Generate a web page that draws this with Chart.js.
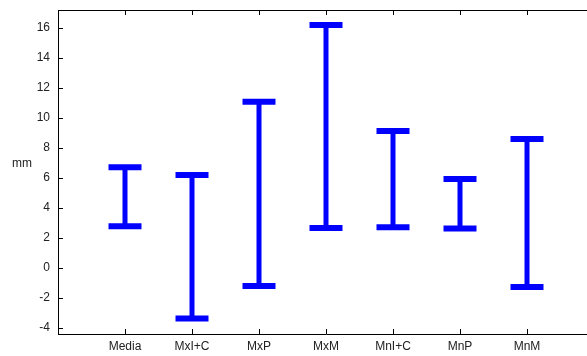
<!DOCTYPE html>
<html>
<head>
<meta charset="utf-8">
<script src="https://cdn.jsdelivr.net/npm/chart.js@4"></script>
<style>
  html, body { margin: 0; padding: 0; background: #fff; overflow: hidden; }
  #wrap { position: relative; width: 600px; height: 356px; }
</style>
</head>
<body>
<div id="wrap"><canvas id="chart"></canvas></div>
<script>
// range bars per group (mm)
const categories = ['Media', 'MxI+C', 'MxP', 'MxM', 'MnI+C', 'MnP', 'MnM'];
const lowValues  = [2.78, -3.36, -1.2, 2.67, 2.71, 2.64, -1.27];
const highValues = [6.71, 6.2, 11.09, 16.2, 9.13, 5.93, 8.6];
const yTicks = [-4, -2, 0, 2, 4, 6, 8, 10, 12, 14, 16];

const blue = '#0000ff';

// one dataset per group: a vertical line with flat caps at both ends
const datasets = categories.map((c, i) => ({
    label: c,
    data: [{x: i, y: lowValues[i]}, {x: i, y: highValues[i]}],
    showLine: true,
    borderColor: blue,
    borderWidth: 5,
    pointStyle: 'line',
    pointRadius: 16.5,
    pointHoverRadius: 16.5,
    pointBorderColor: blue,
    pointBorderWidth: 6,
    pointBackgroundColor: blue
}));

// the box is fixed, no extra room for edge labels
function noPad(s) {
    s.paddingTop = 0;
    s.paddingBottom = 0;
    s.paddingLeft = 0;
    s.paddingRight = 0;
}

// inward tick marks, top border and the "mm" label
const frame = {
    id: 'frame',
    afterDraw(chart) {
        const ctx = chart.ctx;
        const area = chart.chartArea;
        const xs = chart.scales.x, ys = chart.scales.y;
        ctx.save();
        ctx.strokeStyle = '#000';
        ctx.lineWidth = 1;
        ctx.beginPath();
        ctx.moveTo(area.left, Math.round(area.top) + 0.5);
        ctx.lineTo(area.right, Math.round(area.top) + 0.5);
        ys.ticks.forEach(t => {
            const py = Math.round(ys.getPixelForValue(t.value)) + 0.5;
            ctx.moveTo(area.left, py);
            ctx.lineTo(area.left + 5, py);
        });
        xs.ticks.forEach(t => {
            const px = Math.round(xs.getPixelForValue(t.value)) + 0.5;
            ctx.moveTo(px, area.bottom);
            ctx.lineTo(px, area.bottom - 5);
            ctx.moveTo(px, area.top);
            ctx.lineTo(px, area.top + 5);
        });
        ctx.stroke();
        ctx.fillStyle = '#222';
        ctx.font = '12px "Liberation Sans", Arial, sans-serif';
        ctx.textAlign = 'center';
        ctx.textBaseline = 'middle';
        ctx.fillText('mm', 22, 164);
        ctx.restore();
    }
};

const ctx = document.getElementById('chart').getContext('2d');
const chart = new Chart(ctx, {
    type: 'scatter',
    data: { datasets: datasets },
    options: {
        responsive: true,
        maintainAspectRatio: false,
        animation: false,
        layout: { autoPadding: false, padding: { top: 10, right: 6, left: 0, bottom: 0 } },
        plugins: {
            legend: { display: false },
            tooltip: { enabled: false }
        },
        scales: {
            x: {
                type: 'linear',
                min: -1,
                max: 7,
                grid: { display: false, drawTicks: false },
                border: { display: true, color: '#000', width: 1 },
                afterBuildTicks: s => { s.ticks = categories.map((c, i) => ({value: i})); },
                afterFit: s => { s.height = 22; noPad(s); },
                ticks: {
                    padding: 5,
                    maxRotation: 0,
                    autoSkip: false,
                    color: '#222',
                    font: { family: '"Liberation Sans", Arial, sans-serif', size: 12 },
                    callback: v => categories[v]
                }
            },
            y: {
                min: -4.4,
                max: 17.2,
                grid: { display: false, drawTicks: false },
                border: { display: true, color: '#000', width: 1 },
                afterBuildTicks: s => { s.ticks = yTicks.map(v => ({value: v})); },
                afterFit: s => { s.width = 58; noPad(s); },
                ticks: {
                    padding: 8,
                    color: '#222',
                    font: { family: '"Liberation Sans", Arial, sans-serif', size: 12 }
                }
            }
        }
    },
    plugins: [frame]
});
</script>
</body>
</html>
